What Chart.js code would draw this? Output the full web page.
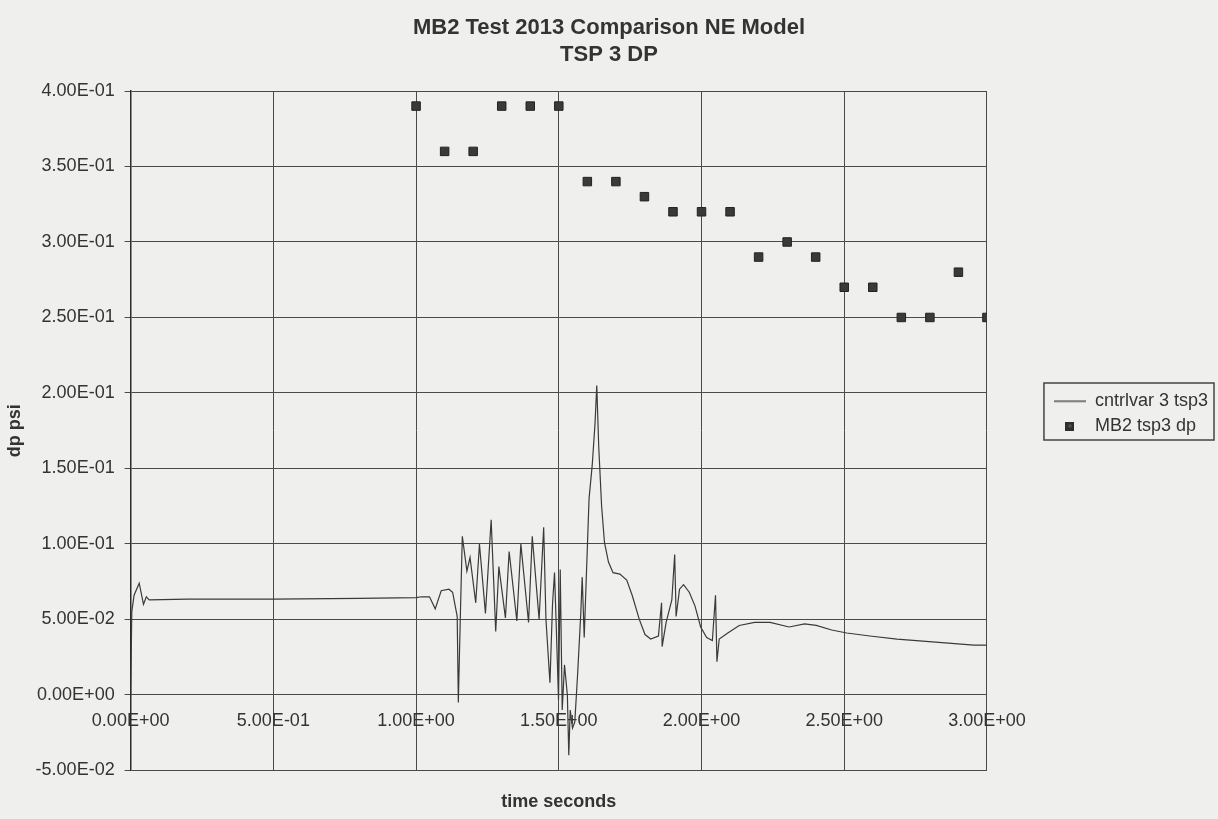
<!DOCTYPE html>
<html>
<head>
<meta charset="utf-8">
<title>MB2 Test 2013 Comparison NE Model</title>
<script src="https://cdn.jsdelivr.net/npm/chart.js@4.4.1/dist/chart.umd.min.js"></script>
<style>
  html, body { margin: 0; padding: 0; background: #efefed; }
  #wrap { width: 1218px; height: 819px; position: relative; }
</style>
</head>
<body>
<div id="wrap"><canvas id="tspChart"></canvas></div>
<script>
// cntrlvar 3 tsp3 (code result)
const timeSec = [
  0.000, 0.004, 0.012, 0.030, 0.045, 0.055, 0.065, 0.200, 0.500, 0.800,
  1.000, 1.020, 1.047, 1.067, 1.088, 1.115, 1.128, 1.137, 1.144, 1.148,
  1.155, 1.162, 1.178, 1.189, 1.209, 1.222, 1.243, 1.263, 1.279, 1.290,
  1.313, 1.326, 1.353, 1.367, 1.394, 1.407, 1.431, 1.447, 1.455, 1.469,
  1.478, 1.485, 1.492, 1.499, 1.505, 1.512, 1.520, 1.530, 1.535, 1.540,
  1.548, 1.556, 1.566, 1.577, 1.582, 1.589, 1.596, 1.606, 1.617, 1.627,
  1.633, 1.640, 1.650, 1.660, 1.674, 1.690, 1.714, 1.738, 1.757, 1.782,
  1.802, 1.822, 1.849, 1.860, 1.862, 1.876, 1.896, 1.906, 1.911, 1.923,
  1.937, 1.957, 1.977, 1.997, 2.018, 2.038, 2.049, 2.054, 2.062, 2.092,
  2.132, 2.186, 2.240, 2.307, 2.361, 2.402, 2.456, 2.509, 2.590, 2.685,
  2.820, 2.954, 3.000
];
const cntrlvarDp = [
  0.000, 0.055, 0.066, 0.074, 0.060, 0.065, 0.063, 0.0635, 0.0635, 0.064,
  0.0645, 0.065, 0.065, 0.057, 0.069, 0.070, 0.068, 0.059, 0.052, -0.005,
  0.052, 0.105, 0.082, 0.091, 0.061, 0.100, 0.054, 0.116, 0.042, 0.085,
  0.051, 0.095, 0.049, 0.100, 0.048, 0.105, 0.050, 0.111, 0.050, 0.008,
  0.060, 0.081, 0.040, -0.003, 0.083, -0.010, 0.020, 0.000, -0.040, -0.010,
  -0.022, -0.018, 0.014, 0.054, 0.078, 0.038, 0.076, 0.130, 0.152, 0.180,
  0.205, 0.164, 0.125, 0.101, 0.088, 0.081, 0.080, 0.076, 0.066, 0.050,
  0.040, 0.037, 0.039, 0.061, 0.032, 0.048, 0.063, 0.093, 0.052, 0.070,
  0.073, 0.068, 0.059, 0.045, 0.038, 0.036, 0.066, 0.022, 0.037, 0.041,
  0.046, 0.048, 0.048, 0.045, 0.047, 0.046, 0.043, 0.041, 0.039, 0.037,
  0.035, 0.033, 0.033
];

// MB2 tsp3 dp (test data)
const mb2Time = [1.0, 1.1, 1.2, 1.3, 1.4, 1.5, 1.6, 1.7, 1.8, 1.9, 2.0, 2.1, 2.2, 2.3, 2.4, 2.5, 2.6, 2.7, 2.8, 2.9, 3.0];
const mb2Dp = [0.39, 0.36, 0.36, 0.39, 0.39, 0.39, 0.34, 0.34, 0.33, 0.32, 0.32, 0.32, 0.29, 0.30, 0.29, 0.27, 0.27, 0.25, 0.25, 0.28, 0.25];

const xTicks = [0, 0.5, 1.0, 1.5, 2.0, 2.5, 3.0];
const yTicks = [-0.05, 0, 0.05, 0.10, 0.15, 0.20, 0.25, 0.30, 0.35, 0.40];

const FONT = "'Liberation Sans', Arial, sans-serif";
const INK = "#333333";

// Excel style 4.00E-01
function sci(v) {
  if (Math.abs(v) < 1e-12) return "0.00E+00";
  const [mant, exp] = v.toExponential(2).split("e");
  const sign = exp[0] === "-" ? "-" : "+";
  return mant + "E" + sign + exp.replace(/[+-]/, "").padStart(2, "0");
}

function swatch(kind) {
  const c = document.createElement("canvas");
  const g = c.getContext("2d");
  if (kind === "line") {
    c.width = 32; c.height = 3;
    g.fillStyle = "#3a3a3a";
    g.fillRect(0, 1, 32, 1.2);
  } else {
    c.width = 9; c.height = 9;
    g.fillStyle = "#2e2e2e";
    g.fillRect(0, 0, 9, 9);
    g.fillStyle = "#555";
    g.fillRect(3, 3, 3, 3);
  }
  return c;
}
const legendSwatches = [swatch("line"), swatch("rect")];

const paperBg = {
  id: "paperBg",
  beforeDraw(chart) {
    const { ctx, width, height } = chart;
    ctx.save();
    ctx.fillStyle = "#efefed";
    ctx.fillRect(0, 0, width, height);
    ctx.restore();
  }
};

const legendFrame = {
  id: "legendFrame",
  afterDraw(chart) {
    const boxes = chart.legend && chart.legend.legendHitBoxes;
    if (!boxes || !boxes.length) return;
    const left = Math.min(...boxes.map(b => b.left));
    const top = Math.min(...boxes.map(b => b.top));
    const right = Math.max(...boxes.map(b => b.left + b.width));
    const bottom = Math.max(...boxes.map(b => b.top + b.height));
    const { ctx } = chart;
    ctx.save();
    ctx.strokeStyle = "#444";
    ctx.lineWidth = 1.5;
    ctx.strokeRect(left - 10, top - 9, right - left + 16, bottom - top + 14);
    ctx.restore();
  }
};

new Chart(document.getElementById("tspChart"), {
  type: "scatter",
  data: {
    datasets: [
      {
        label: "cntrlvar 3 tsp3",
        data: timeSec.map((t, i) => ({ x: t, y: cntrlvarDp[i] })),
        showLine: true,
        borderColor: "#3a3a3a",
        borderWidth: 1.2,
        pointRadius: 0,
        tension: 0
      },
      {
        label: "MB2 tsp3 dp",
        data: mb2Time.map((t, i) => ({ x: t, y: mb2Dp[i] })),
        showLine: false,
        pointStyle: "rect",
        pointRadius: 6,
        backgroundColor: "#3a3a3a",
        borderColor: "#222",
        borderWidth: 1
      }
    ]
  },
  options: {
    responsive: true,
    maintainAspectRatio: false,
    animation: false,
    layout: { padding: { left: 0, right: 0, top: 0, bottom: 4 } },
    plugins: {
      title: {
        display: true,
        text: ["MB2 Test 2013 Comparison NE Model", "TSP 3 DP"],
        color: INK,
        font: { family: FONT, size: 22, weight: "bold", lineHeight: 1.25 },
        padding: { top: 14, bottom: 22 }
      },
      subtitle: {
        display: true,
        text: "time seconds",
        position: "bottom",
        fullSize: false,
        color: INK,
        font: { family: FONT, size: 18, weight: "bold", lineHeight: 1.2 },
        padding: { top: 21, bottom: 2 }
      },
      legend: {
        position: "right",
        align: "start",
        fullSize: false,
        title: { display: true, text: " ", font: { size: 10, lineHeight: 1 }, padding: { top: 0, bottom: 284 } },
        labels: {
          usePointStyle: true,
          pointStyleWidth: 32,
          padding: 7,
          color: INK,
          font: { family: FONT, size: 18 },
          generateLabels: (chart) =>
            Chart.defaults.plugins.legend.labels.generateLabels(chart).map((item, i) => ({
              ...item,
              pointStyle: legendSwatches[i]
            }))
        }
      },
      tooltip: { enabled: false }
    },
    scales: {
      x: {
        type: "linear",
        position: { y: 0 },
        min: 0,
        max: 3,
        afterBuildTicks: (scale) => { scale.ticks = xTicks.map(v => ({ value: v })); },
        ticks: {
          color: INK,
          font: { family: FONT, size: 18 },
          padding: 9,
          autoSkip: false,
          maxRotation: 0,
          callback: (v) => sci(v)
        },
        grid: { color: "#4a4a4a", lineWidth: 1, tickLength: 6 },
        border: { display: true, color: "#4a4a4a", width: 1 }
      },
      y: {
        type: "linear",
        position: "left",
        min: -0.05,
        max: 0.4,
        afterBuildTicks: (scale) => { scale.ticks = yTicks.map(v => ({ value: v })); },
        ticks: {
          color: INK,
          font: { family: FONT, size: 18 },
          padding: 10,
          callback: (v) => sci(v)
        },
        grid: { color: "#4a4a4a", lineWidth: 1, tickLength: 6 },
        border: { display: true, color: "#2a2a2a", width: 1.5 },
        title: {
          display: true,
          text: "dp psi",
          color: INK,
          font: { family: FONT, size: 18, weight: "bold", lineHeight: 1.2 },
          padding: { top: 4, bottom: 0 }
        }
      },
      gap: {
        type: "linear",
        position: "right",
        display: true,
        ticks: { display: false },
        grid: { display: false },
        border: { display: false },
        afterFit: (scale) => { scale.width = 60; }
      }
    }
  },
  plugins: [paperBg, legendFrame]
});
</script>
</body>
</html>
